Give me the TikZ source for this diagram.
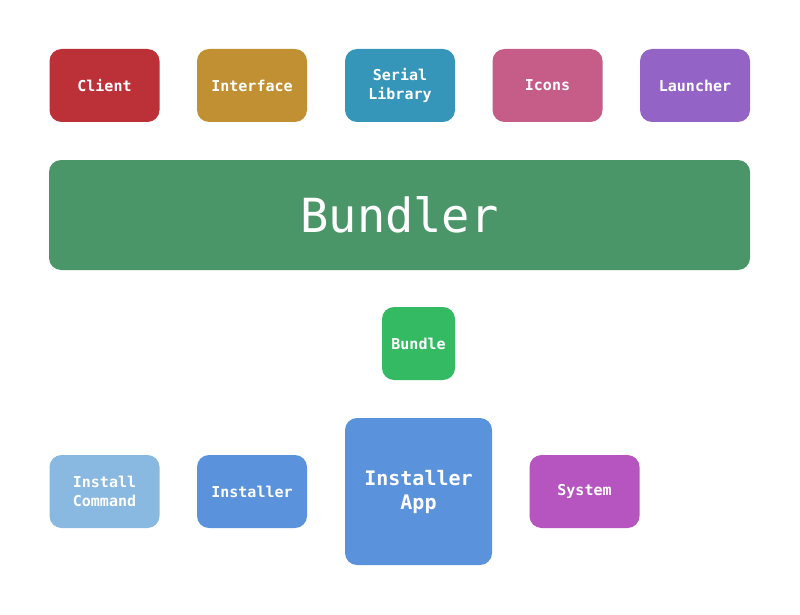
\documentclass[tikz,border=0pt]{standalone}
\usepackage{fontspec}
\newfontfamily\boxfont{DejaVu Sans Mono}
\usepackage{tikz}
\usetikzlibrary{positioning}
\definecolor{cClient}{RGB}{188,48,55}
\definecolor{cIface}{RGB}{192,144,50}
\definecolor{cSerial}{RGB}{53,150,186}
\definecolor{cIcons}{RGB}{198,92,136}
\definecolor{cLaunch}{RGB}{148,99,198}
\definecolor{cBundler}{RGB}{74,150,104}
\definecolor{cBundle}{RGB}{51,186,98}
\definecolor{cCmd}{RGB}{137,184,224}
\definecolor{cInst}{RGB}{90,146,220}
\definecolor{cSys}{RGB}{182,85,192}
\tikzset{
  box/.style={rounded corners=12pt, inner sep=0pt, text=white, align=center,
    font=\boxfont\bfseries\fontsize{15}{19}\selectfont,
    minimum width=110pt, minimum height=73pt}
}

\begin{document}
\begin{tikzpicture}[x=1pt,y=-1pt]
      \useasboundingbox (0,0) rectangle (800,615);

      \node[box, fill=cClient] (Client) at (104.5,85.5) {Client};
      \node[box, fill=cIface] (Iface) at (252,85.5) {Interface};
      \node[box, fill=cSerial] (Serial) at (400,85.5) {Serial\\Library};
      \node[box, fill=cIcons] (Icons) at (547.5,85.5) {Icons};
      \node[box, fill=cLaunch] (Launch) at (695,85.5) {Launcher};

      \node[box, fill=cBundler, minimum width=701pt, minimum height=110pt,
        font=\boxfont\fontsize{47}{56}\selectfont] (Bundler) at (399.5,215) {Bundler};

      \node[box, fill=cBundle, minimum width=73pt] (Bundle) at (418.5,343.5) {Bundle};

      \node[box, fill=cCmd] (Cmd) at (104.5,491.5) {Install\\Command};
      \node[box, fill=cInst] (Inst) at (252,491.5) {Installer};
      \node[box, fill=cInst, minimum width=147pt, minimum height=147pt,
        font=\boxfont\bfseries\fontsize{20}{24}\selectfont] (InstApp) at (418.5,491.5) {Installer\\App};
      \node[box, fill=cSys] (Sys) at (584.5,491.5) {System};
    \end{tikzpicture}
\end{document}
